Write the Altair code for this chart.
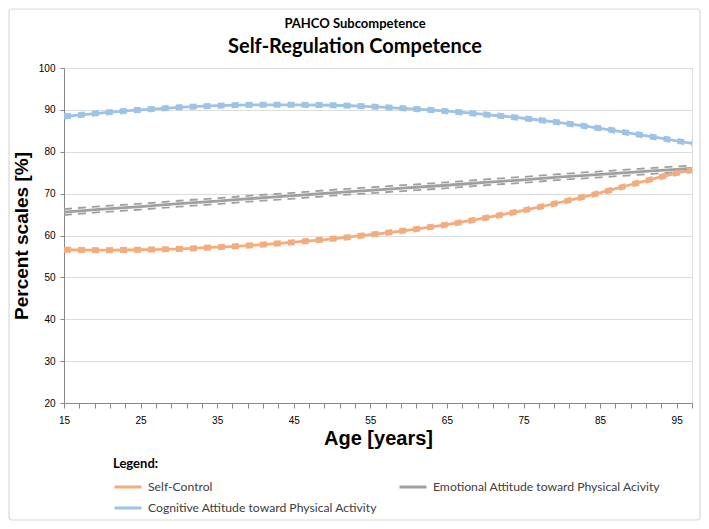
import altair as alt
import pandas as pd

ages = [15, 20, 25, 30, 35, 40, 45, 50, 55, 60, 65, 70, 75, 80, 85, 90, 95, 97]

self_control = [56.6, 56.5, 56.6, 56.8, 57.2, 57.7, 58.4, 59.2, 60.2, 61.3, 62.6, 64.2, 66.0, 68.0, 70.2, 72.6, 74.9, 75.6]
self_control_lo = [56.3, 56.2, 56.3, 56.5, 56.9, 57.4, 58.1, 58.9, 59.9, 61.0, 62.3, 63.9, 65.7, 67.7, 69.9, 72.3, 74.6, 75.3]
self_control_hi = [56.9, 56.8, 56.9, 57.1, 57.5, 58.0, 58.7, 59.5, 60.5, 61.6, 62.9, 64.5, 66.3, 68.3, 70.5, 72.9, 75.2, 75.9]

emotional = [65.6, 66.3, 66.9, 67.6, 68.2, 68.9, 69.5, 70.2, 70.8, 71.4, 72.0, 72.7, 73.3, 74.0, 74.6, 75.2, 75.8, 76.0]
emotional_lo = [64.9, 65.6, 66.2, 66.9, 67.5, 68.2, 68.8, 69.5, 70.1, 70.7, 71.3, 72.0, 72.6, 73.3, 73.9, 74.5, 75.1, 75.3]
emotional_hi = [66.3, 67.0, 67.6, 68.3, 68.9, 69.6, 70.2, 70.9, 71.5, 72.1, 72.7, 73.4, 74.0, 74.7, 75.3, 75.9, 76.5, 76.7]

cognitive = [88.4, 89.3, 90.0, 90.6, 91.0, 91.2, 91.2, 91.1, 90.8, 90.3, 89.7, 88.9, 88.0, 86.9, 85.6, 84.1, 82.6, 82.0]
cognitive_lo = [88.1, 89.0, 89.7, 90.3, 90.7, 90.9, 90.9, 90.8, 90.5, 90.0, 89.4, 88.6, 87.7, 86.6, 85.3, 83.8, 82.3, 81.7]
cognitive_hi = [88.7, 89.6, 90.3, 90.9, 91.3, 91.5, 91.5, 91.4, 91.1, 90.6, 90.0, 89.2, 88.3, 87.2, 85.9, 84.4, 82.9, 82.3]

series_names = ["Self-Control", "Emotional Attitude toward Physical Acivity", "Cognitive Attitude toward Physical Activity"]
series_colors = ["#F4AC7E", "#A0A0A0", "#9DC3E6"]

x_tick_values = list(range(15, 98, 2))
y_tick_values = [20, 30, 40, 50, 60, 70, 80, 90, 100]

rows = []
for name, mean, lo, hi in [
    (series_names[0], self_control, self_control_lo, self_control_hi),
    (series_names[1], emotional, emotional_lo, emotional_hi),
    (series_names[2], cognitive, cognitive_lo, cognitive_hi),
]:
    for a, m, l, h in zip(ages, mean, lo, hi):
        rows.append({"age": a, "series": name, "kind": "mean", "value": m})
        rows.append({"age": a, "series": name, "kind": "lower", "value": l})
        rows.append({"age": a, "series": name, "kind": "upper", "value": h})
df = pd.DataFrame(rows)

W, H = 628, 335
FONT = "Lato"

xenc = alt.X("age:Q", scale=alt.Scale(domain=[15, 97], nice=False, zero=False),
             axis=alt.Axis(values=x_tick_values, grid=False, title="Age [years]",
                           labelExpr="(datum.value - 15) % 10 == 0 ? datum.label : ''",
                           labelOverlap=False, labelFlush=False, tickSize=5,
                           labelPadding=7, titlePadding=3, titleFontSize=20))
yenc = alt.Y("value:Q", scale=alt.Scale(domain=[20, 100], nice=False, zero=False),
             axis=alt.Axis(values=y_tick_values, title="Percent scales [%]",
                           tickSize=4, labelPadding=5, titlePadding=7, titleFontSize=19))
color = alt.Color("series:N", scale=alt.Scale(domain=series_names, range=series_colors),
                  legend=alt.Legend(title="Legend:", orient="none", legendX=49, legendY=390,
                                    columns=2, columnPadding=20, rowPadding=7, clipHeight=14,
                                    symbolType="stroke", symbolSize=729, symbolStrokeWidth=3,
                                    labelFontSize=12.2, titleFontSize=13, titlePadding=9,
                                    labelColor="#404040", titleColor="#000000",
                                    labelFont=FONT, titleFont=FONT, labelLimit=400,
                                    labelOffset=5, direction="horizontal"))

base = alt.Chart(df)

dash_sc = base.transform_filter(
    (alt.datum.kind != "mean") & (alt.datum.series != series_names[1])
).mark_line(strokeWidth=3.5, strokeDash=[7, 7], interpolate="monotone").encode(
    x=xenc, y=yenc, color=color, detail="kind:N")

dash_em = base.transform_filter(
    (alt.datum.kind != "mean") & (alt.datum.series == series_names[1])
).mark_line(strokeWidth=1.8, strokeDash=[8, 6], interpolate="monotone").encode(
    x=xenc, y=yenc, color=color, detail="kind:N")

solid = base.transform_filter(alt.datum.kind == "mean").mark_line(
    strokeWidth=2.8, interpolate="monotone"
).encode(x=xenc, y=yenc, color=color)

frame = alt.Chart(pd.DataFrame({"f": [0]})).mark_rect(
    fillOpacity=0, stroke="#D9D9D9", strokeWidth=1.2, cornerRadius=3
).encode(x=alt.value(-55), x2=alt.value(W + 8), y=alt.value(-59), y2=alt.value(H + 117))

chart = alt.layer(frame, dash_em, solid, dash_sc).properties(
    width=W, height=H,
    padding={"left": 56, "top": 60, "right": 9, "bottom": 118},
    autosize=alt.AutoSizeParams(type="none"),
    title=alt.TitleParams(text="PAHCO Subcompetence", subtitle="Self-Regulation Competence",
                          fontSize=13, fontWeight="bold", color="#000000", font=FONT,
                          subtitleFontSize=20, subtitleFontWeight="bold", subtitleColor="#000000",
                          subtitleFont=FONT, subtitlePadding=6, anchor="middle", dx=-23, offset=-49),
).configure_view(stroke=None).configure_axis(
    labelFont=FONT, titleFont=FONT, labelFontSize=14, labelColor="#595959",
    titleColor="#000000", titleFontWeight="bold", domainColor="#B0B0B0", tickColor="#B0B0B0",
    gridColor="#D9D9D9", gridWidth=1
).configure(background="white")

chart.save("out.html", embed_options={"renderer": "svg", "actions": False})
